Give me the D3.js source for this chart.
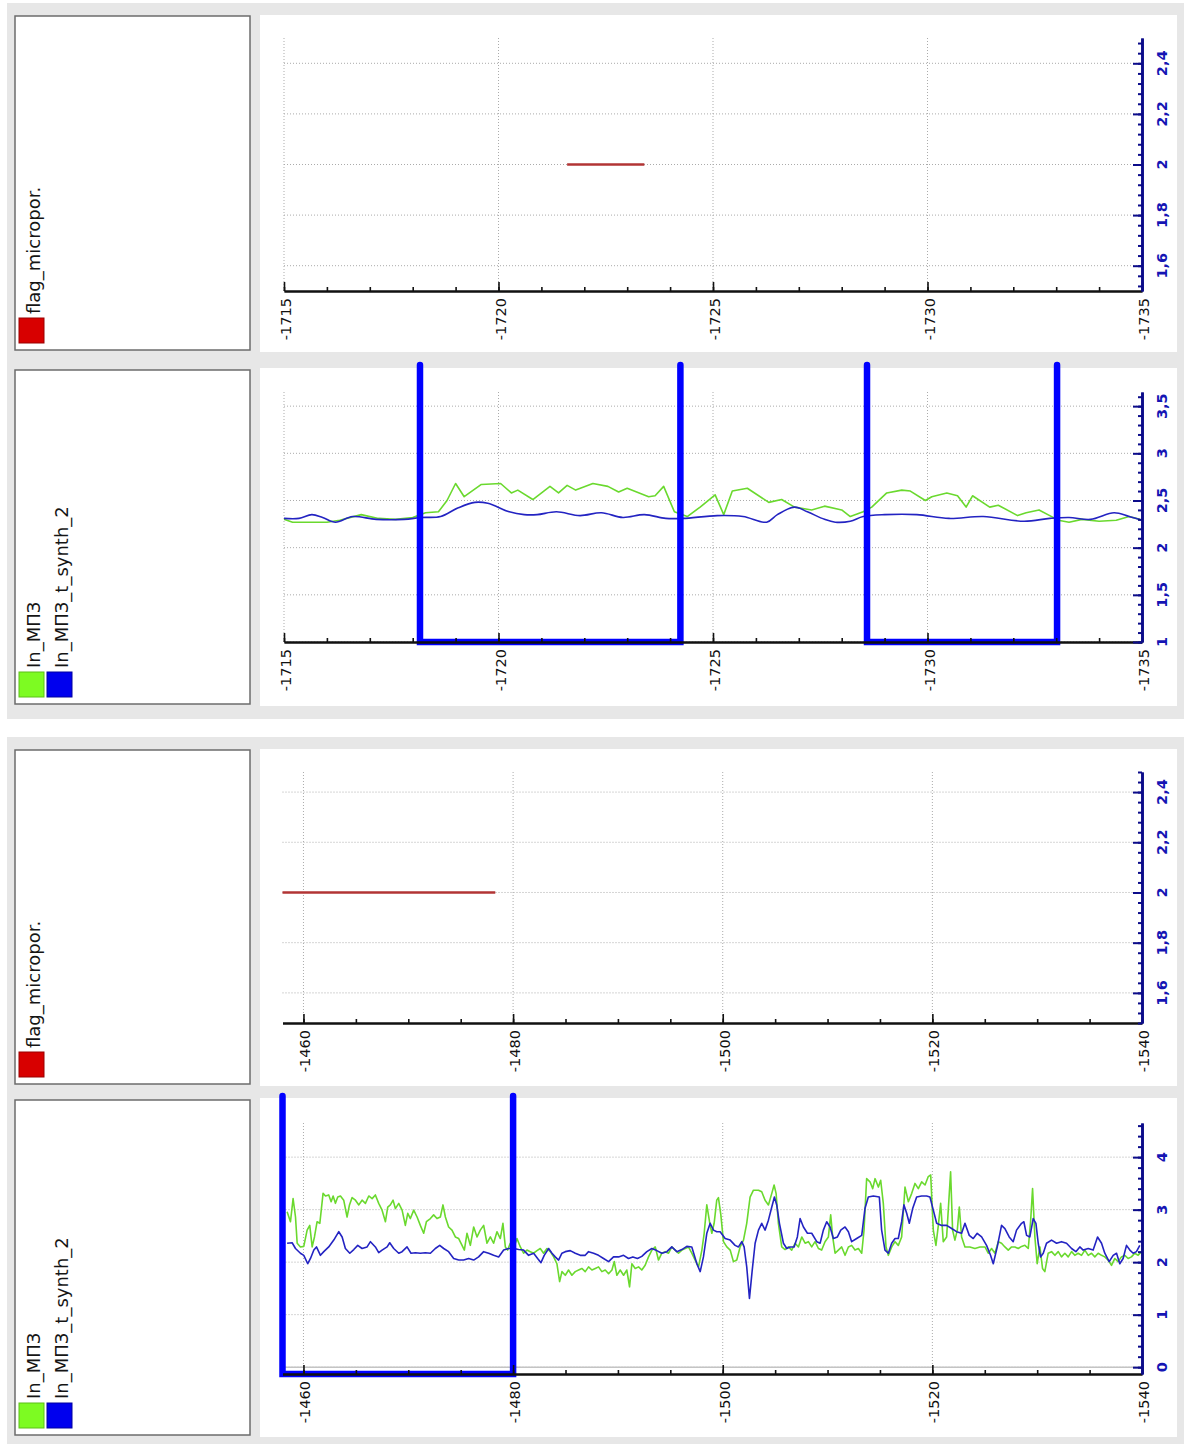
<!DOCTYPE html>
<html>
<head>
<meta charset="utf-8">
<title>flag_micropor / In_МПЗ</title>
<script src="https://d3js.org/d3.v7.min.js"></script>
<style>
  body { margin: 0; background: #fff; }
  svg text { font-family: "DejaVu Sans", sans-serif; }
</style>
</head>
<body>
<svg width="1184" height="1444"></svg>
<script>
// ---- tick labels ----
const topDepthTicks = [-1715, -1720, -1725, -1730, -1735];
const bottomDepthTicks = [-1460, -1480, -1500, -1520, -1540];
const flagTicks = [1.6, 1.8, 2, 2.2, 2.4];
const topLnTicks = [1, 1.5, 2, 2.5, 3, 3.5];
const bottomLnTicks = [0, 1, 2, 3, 4];

const flagLabels = ["flag_micropor."];
const lnLabels = ["In_МПЗ", "In_МПЗ_t_synth_2"];

// ---- flag_micropor. (value 2 over a depth span) ----
const flagLevel = 2;
const topFlagSpan = [-1721.6, -1723.4];
const bottomFlagSpan = [-1458.0, -1478.3];

// ---- intervals drawn as thick blue brackets ----
const topIntervals = [[-1718.17, -1724.24], [-1728.59, -1733.02]];
const bottomIntervals = [[-1458.0, -1480.0]];

// ---- upper interval, In_МПЗ ----
const topLnDepth = [-1715.0, -1715.2, -1715.5, -1716.0, -1716.3, -1716.8, -1717.2, -1717.6, -1718.0, -1718.3,
  -1718.6, -1718.8, -1719.0, -1719.2, -1719.6, -1720.05, -1720.3, -1720.45, -1720.8, -1721.2,
  -1721.4, -1721.6, -1721.8, -1722.2, -1722.55, -1722.8, -1723.0, -1723.5, -1723.65, -1723.85,
  -1724.1, -1724.4, -1724.7, -1725.05, -1725.25, -1725.45, -1725.8, -1726.3, -1726.6, -1726.9,
  -1727.3, -1727.6, -1728.0, -1728.2, -1728.5, -1728.7, -1729.05, -1729.4, -1729.6, -1729.95,
  -1730.1, -1730.45, -1730.7, -1730.9, -1731.05, -1731.45, -1731.65, -1732.1, -1732.3, -1732.6,
  -1732.85, -1733.05, -1733.3, -1733.6, -1734.0, -1734.4, -1734.7, -1734.95];
const topLnValue = [2.30, 2.27, 2.27, 2.27, 2.29, 2.35, 2.31, 2.30, 2.32, 2.37,
  2.38, 2.50, 2.68, 2.54, 2.67, 2.68, 2.58, 2.61, 2.51, 2.65,
  2.58, 2.66, 2.61, 2.68, 2.65, 2.59, 2.63, 2.54, 2.55, 2.65,
  2.38, 2.33, 2.43, 2.56, 2.35, 2.60, 2.63, 2.48, 2.51, 2.43,
  2.40, 2.44, 2.40, 2.33, 2.38, 2.43, 2.58, 2.61, 2.60, 2.50,
  2.54, 2.58, 2.55, 2.43, 2.55, 2.43, 2.45, 2.34, 2.37, 2.40,
  2.34, 2.29, 2.27, 2.30, 2.28, 2.29, 2.33, 2.30];

// ---- upper interval, In_МПЗ_t_synth_2 ----
const topSynthDepth = [-1715.0, -1715.35, -1715.65, -1715.9, -1716.2, -1716.6, -1717.15, -1717.8, -1718.2, -1718.65,
  -1719.05, -1719.45, -1719.75, -1720.25, -1720.6, -1720.9, -1721.35, -1721.9, -1722.4, -1722.9,
  -1723.4, -1723.9, -1724.3, -1725.1, -1725.7, -1726.25, -1726.5, -1726.9, -1727.2, -1727.6,
  -1727.85, -1728.2, -1728.5, -1729.0, -1729.75, -1730.5, -1731.3, -1732.25, -1732.85, -1733.3,
  -1733.8, -1734.35, -1734.7, -1735.0];
const topSynthValue = [2.31, 2.31, 2.35, 2.32, 2.27, 2.33, 2.30, 2.30, 2.32, 2.33,
  2.42, 2.48, 2.47, 2.38, 2.35, 2.35, 2.38, 2.34, 2.37, 2.32,
  2.35, 2.31, 2.31, 2.34, 2.33, 2.27, 2.35, 2.43, 2.38, 2.30,
  2.27, 2.28, 2.33, 2.35, 2.35, 2.31, 2.33, 2.28, 2.31, 2.32,
  2.30, 2.37, 2.33, 2.29];

// ---- lower interval, In_МПЗ ----
const bottomLnDepth = [-1458.44, -1458.76, -1459.01, -1459.24, -1459.40, -1459.71, -1460.03, -1460.35, -1460.60, -1460.83,
  -1461.05, -1461.30, -1461.56, -1461.87, -1462.10, -1462.41, -1462.64, -1462.83, -1463.05, -1463.27,
  -1463.53, -1463.84, -1464.16, -1464.39, -1464.64, -1464.96, -1465.28, -1465.59, -1465.91, -1466.23,
  -1466.55, -1466.86, -1467.18, -1467.50, -1467.82, -1468.04, -1468.29, -1468.55, -1468.77, -1469.09,
  -1469.41, -1469.72, -1469.95, -1470.20, -1470.52, -1470.84, -1471.15, -1471.47, -1471.73, -1472.11,
  -1472.42, -1472.74, -1473.06, -1473.31, -1473.54, -1473.85, -1474.17, -1474.49, -1474.81, -1475.13,
  -1475.35, -1475.60, -1475.92, -1476.24, -1476.56, -1476.87, -1477.19, -1477.51, -1477.83, -1478.14,
  -1478.46, -1478.78, -1479.03, -1479.26, -1479.48, -1479.73, -1480.05, -1480.37, -1480.69, -1481.00,
  -1481.32, -1481.64, -1481.96, -1482.28, -1482.59, -1482.91, -1483.23, -1483.55, -1483.87, -1484.18,
  -1484.44, -1484.66, -1484.98, -1485.29, -1485.61, -1485.93, -1486.25, -1486.56, -1486.88, -1487.20,
  -1487.52, -1487.84, -1488.15, -1488.47, -1488.79, -1489.11, -1489.43, -1489.65, -1489.90, -1490.22,
  -1490.54, -1490.85, -1491.11, -1491.33, -1491.65, -1491.97, -1492.28, -1492.60, -1492.92, -1493.24,
  -1493.56, -1493.87, -1494.19, -1494.51, -1494.83, -1495.14, -1495.46, -1495.78, -1496.10, -1496.42,
  -1496.73, -1497.05, -1497.37, -1497.69, -1498.01, -1498.23, -1498.48, -1498.74, -1498.96, -1499.18,
  -1499.43, -1499.59, -1499.82, -1500.07, -1500.39, -1500.71, -1501.02, -1501.34, -1501.66, -1501.98,
  -1502.29, -1502.61, -1502.93, -1503.41, -1503.72, -1504.04, -1504.36, -1504.68, -1504.90, -1505.09,
  -1505.31, -1505.63, -1505.95, -1506.27, -1506.58, -1506.90, -1507.22, -1507.54, -1507.86, -1508.17,
  -1508.49, -1508.81, -1509.13, -1509.44, -1509.76, -1510.08, -1510.30, -1510.49, -1510.72, -1511.03,
  -1511.35, -1511.67, -1511.99, -1512.30, -1512.62, -1512.94, -1513.26, -1513.48, -1513.73, -1514.05,
  -1514.31, -1514.53, -1514.85, -1515.07, -1515.32, -1515.58, -1515.80, -1516.12, -1516.44, -1516.75,
  -1517.07, -1517.39, -1517.71, -1518.03, -1518.34, -1518.66, -1518.98, -1519.30, -1519.61, -1519.84,
  -1520.09, -1520.34, -1520.57, -1520.79, -1521.04, -1521.36, -1521.74, -1521.93, -1522.15, -1522.38,
  -1522.57, -1522.79, -1523.11, -1523.58, -1524.06, -1524.54, -1525.02, -1525.33, -1525.65, -1525.97,
  -1526.29, -1526.60, -1526.92, -1527.24, -1527.56, -1527.87, -1528.19, -1528.51, -1528.83, -1529.15,
  -1529.37, -1529.56, -1529.78, -1530.00, -1530.26, -1530.51, -1530.73, -1531.05, -1531.37, -1531.69,
  -1532.01, -1532.32, -1532.64, -1532.96, -1533.28, -1533.59, -1533.91, -1534.23, -1534.55, -1534.87,
  -1535.18, -1535.50, -1535.82, -1536.14, -1536.45, -1536.77, -1537.09, -1537.41, -1537.72, -1538.04,
  -1538.36, -1538.68, -1538.99, -1539.31, -1539.63, -1539.95];
const bottomLnValue = [2.96, 2.77, 3.21, 2.86, 2.36, 2.29, 2.30, 2.61, 2.70, 2.29,
  2.48, 2.77, 2.74, 3.31, 3.26, 3.28, 3.15, 3.26, 3.12, 3.24,
  3.26, 3.18, 2.86, 3.09, 3.23, 3.18, 3.09, 3.18, 3.12, 3.26,
  3.21, 3.28, 3.12, 2.99, 2.77, 3.05, 3.09, 3.18, 3.02, 3.12,
  2.99, 2.70, 2.93, 2.83, 2.99, 2.86, 2.70, 2.55, 2.77, 2.83,
  2.90, 2.83, 2.86, 3.09, 2.86, 2.67, 2.61, 2.48, 2.45, 2.32,
  2.23, 2.55, 2.32, 2.67, 2.48, 2.61, 2.70, 2.36, 2.48, 2.36,
  2.58, 2.45, 2.74, 2.29, 2.23, 2.36, 2.26, 2.45, 2.29, 2.17,
  2.23, 2.20, 2.17, 2.22, 2.26, 2.17, 2.26, 2.20, 2.10, 1.97,
  1.63, 1.82, 1.75, 1.85, 1.75, 1.82, 1.85, 1.88, 1.82, 1.91,
  1.85, 1.88, 1.91, 1.82, 1.85, 1.78, 1.85, 2.01, 1.75, 1.85,
  1.75, 1.85, 1.53, 1.97, 1.88, 1.91, 1.85, 1.94, 2.10, 2.23,
  2.29, 2.04, 2.17, 2.20, 2.17, 2.29, 2.23, 2.17, 2.23, 2.26,
  2.29, 2.17, 2.04, 1.91, 2.23, 2.55, 3.09, 2.77, 2.55, 2.74,
  3.18, 3.23, 2.90, 2.39, 2.29, 2.23, 2.01, 2.04, 2.29, 2.42,
  2.74, 3.24, 3.37, 3.37, 3.34, 3.18, 3.09, 3.31, 3.47, 3.31,
  2.74, 2.29, 2.24, 2.29, 2.23, 2.36, 2.29, 2.48, 2.36, 2.39,
  2.29, 2.39, 2.26, 2.23, 2.39, 2.48, 2.90, 2.48, 2.17, 2.23,
  2.29, 2.13, 2.29, 2.32, 2.23, 2.26, 2.17, 2.61, 3.59, 3.53,
  3.40, 3.59, 3.43, 3.56, 3.12, 2.29, 2.13, 2.29, 2.39, 2.32,
  2.48, 3.43, 3.15, 3.31, 3.50, 3.40, 3.53, 3.47, 3.63, 3.66,
  2.61, 2.32, 2.70, 3.12, 2.39, 2.48, 3.72, 2.61, 2.42, 2.61,
  3.05, 2.48, 2.29, 2.29, 2.26, 2.29, 2.29, 2.17, 2.26, 2.17,
  2.39, 2.36, 2.29, 2.23, 2.29, 2.29, 2.26, 2.30, 2.32, 2.26,
  2.77, 3.40, 2.48, 1.97, 2.29, 1.88, 1.82, 2.17, 2.20, 2.13,
  2.20, 2.10, 2.17, 2.10, 2.20, 2.13, 2.17, 2.13, 2.23, 2.13,
  2.17, 2.10, 2.17, 2.13, 2.10, 2.04, 1.94, 2.07, 2.01, 2.10,
  2.13, 2.07, 2.10, 2.17, 2.13, 2.20];

// ---- lower interval, In_МПЗ_t_synth_2 ----
const bottomSynthDepth = [-1458.44, -1458.92, -1459.24, -1459.71, -1460.03, -1460.41, -1460.67, -1460.99, -1461.24, -1461.62,
  -1461.94, -1462.41, -1462.89, -1463.37, -1463.69, -1464.00, -1464.42, -1464.80, -1465.18, -1465.59,
  -1466.07, -1466.39, -1466.86, -1467.18, -1467.50, -1467.98, -1468.23, -1468.61, -1469.09, -1469.41,
  -1469.88, -1470.26, -1470.68, -1471.15, -1471.63, -1472.11, -1472.58, -1473.00, -1473.38, -1473.85,
  -1474.33, -1474.81, -1475.28, -1475.76, -1476.24, -1476.71, -1477.19, -1477.67, -1478.14, -1478.62,
  -1479.10, -1479.57, -1480.05, -1480.53, -1481.00, -1481.48, -1481.96, -1482.34, -1482.66, -1482.97,
  -1483.39, -1483.71, -1484.02, -1484.34, -1484.66, -1484.98, -1485.45, -1485.93, -1486.41, -1486.88,
  -1487.20, -1487.68, -1488.15, -1488.63, -1489.11, -1489.58, -1490.06, -1490.54, -1491.01, -1491.43,
  -1491.87, -1492.28, -1492.76, -1493.24, -1493.71, -1494.19, -1494.67, -1495.14, -1495.62, -1496.10,
  -1496.57, -1497.05, -1497.53, -1497.85, -1498.16, -1498.48, -1498.80, -1499.12, -1499.43, -1499.75,
  -1500.23, -1500.71, -1501.18, -1501.50, -1501.82, -1502.04, -1502.29, -1502.55, -1502.80, -1503.09,
  -1503.41, -1503.72, -1504.04, -1504.36, -1504.68, -1504.93, -1505.15, -1505.41, -1505.79, -1506.11,
  -1506.42, -1506.81, -1507.12, -1507.38, -1507.70, -1508.08, -1508.49, -1508.97, -1509.29, -1509.60,
  -1509.92, -1510.24, -1510.56, -1510.94, -1511.26, -1511.67, -1511.99, -1512.30, -1512.78, -1513.26,
  -1513.57, -1513.89, -1514.37, -1514.94, -1515.16, -1515.48, -1515.80, -1516.12, -1516.44, -1516.75,
  -1517.07, -1517.29, -1517.55, -1517.80, -1518.12, -1518.50, -1518.98, -1519.45, -1519.77, -1520.09,
  -1520.41, -1520.88, -1521.36, -1521.84, -1522.31, -1522.79, -1523.11, -1523.52, -1523.90, -1524.28,
  -1524.70, -1525.17, -1525.55, -1525.81, -1526.19, -1526.60, -1526.92, -1527.33, -1527.71, -1528.03,
  -1528.51, -1528.73, -1528.99, -1529.30, -1529.62, -1529.88, -1530.10, -1530.32, -1530.58, -1530.89,
  -1531.37, -1531.85, -1532.32, -1532.80, -1533.28, -1533.69, -1534.07, -1534.39, -1534.87, -1535.34,
  -1535.76, -1536.14, -1536.45, -1536.87, -1537.25, -1537.57, -1537.88, -1538.20, -1538.52, -1538.84,
  -1539.16, -1539.47, -1539.79];
const bottomSynthValue = [2.36, 2.37, 2.26, 2.17, 2.13, 1.97, 2.07, 2.23, 2.29, 2.13,
  2.20, 2.29, 2.42, 2.58, 2.48, 2.26, 2.17, 2.24, 2.32, 2.26,
  2.29, 2.39, 2.29, 2.18, 2.23, 2.29, 2.37, 2.26, 2.17, 2.20,
  2.29, 2.17, 2.18, 2.17, 2.18, 2.17, 2.26, 2.32, 2.26, 2.20,
  2.07, 2.04, 2.04, 2.07, 2.04, 2.10, 2.20, 2.17, 2.13, 2.10,
  2.23, 2.26, 2.26, 2.24, 2.23, 2.13, 2.17, 2.07, 1.99, 2.13,
  2.26, 2.17, 2.10, 2.04, 2.17, 2.20, 2.22, 2.17, 2.13, 2.13,
  2.20, 2.17, 2.13, 2.07, 2.01, 2.10, 2.10, 2.13, 2.07, 2.10,
  2.07, 2.11, 2.20, 2.26, 2.22, 2.17, 2.20, 2.29, 2.20, 2.24,
  2.30, 2.29, 1.97, 1.82, 2.10, 2.55, 2.74, 2.61, 2.58, 2.58,
  2.45, 2.42, 2.32, 2.29, 2.39, 2.29, 1.91, 1.31, 1.82, 2.36,
  2.61, 2.74, 2.61, 2.80, 3.05, 3.24, 3.09, 2.74, 2.36, 2.26,
  2.29, 2.29, 2.48, 2.83, 2.67, 2.55, 2.55, 2.39, 2.36, 2.61,
  2.77, 2.67, 2.45, 2.48, 2.61, 2.67, 2.58, 2.39, 2.45, 2.51,
  3.02, 3.24, 3.26, 3.24, 2.61, 2.23, 2.17, 2.36, 2.45, 2.45,
  2.77, 3.09, 2.93, 2.74, 3.02, 3.24, 3.26, 3.26, 3.24, 2.99,
  2.74, 2.70, 2.70, 2.64, 2.58, 2.55, 2.74, 2.51, 2.45, 2.55,
  2.48, 2.32, 2.13, 1.97, 2.29, 2.70, 2.64, 2.48, 2.39, 2.61,
  2.74, 2.77, 2.51, 2.48, 2.83, 2.74, 2.36, 2.10, 2.17, 2.36,
  2.42, 2.36, 2.39, 2.36, 2.26, 2.20, 2.29, 2.23, 2.26, 2.23,
  2.48, 2.36, 2.17, 2.01, 2.13, 2.17, 1.97, 2.07, 2.32, 2.23,
  2.17, 2.20, 2.32];

// ---- colours ----
const green = "#6ad92e", navy = "#2323c2", bracketBlue = "#0000ff", flagRed = "#b23434";
const axisBlue = "#0c0c8a", labelBlue = "#1515b4";

const svg = d3.select("svg");
const plotRight = 1142;

// grey frames for the two depth intervals
svg.append("rect").attr("x", 7).attr("y", 3).attr("width", 1177).attr("height", 716).attr("fill", "#e7e7e7");
svg.append("rect").attr("x", 7).attr("y", 737).attr("width", 1177).attr("height", 707).attr("fill", "#e7e7e7");

const fmt = v => String(+v.toFixed(2)).replace(".", ",");

function drawPanel(p) {
  const x = d3.scaleLinear().domain(p.xDomain).range([p.xLeft, plotRight]);
  const y = d3.scaleLinear().domain(p.yDomain).range([p.plotBottom, p.plotTop]);

  // legend box
  svg.append("rect").attr("x", 15).attr("y", p.legendY).attr("width", 235).attr("height", p.legendH)
    .attr("fill", "#fff").attr("stroke", "#6c6c6c").attr("stroke-width", 1.5);
  p.legend.forEach((item, i) => {
    const sx = 19 + i * 28, sy = p.legendY + p.legendH - 32;
    svg.append("rect").attr("x", sx).attr("y", sy).attr("width", 25).attr("height", 25)
      .attr("fill", item.color).attr("stroke", item.edge).attr("stroke-width", 1);
    svg.append("text")
      .attr("transform", `translate(${sx + 21},${sy - 4}) rotate(-90)`)
      .attr("font-size", 18).attr("fill", "#151515")
      .text(item.label);
  });

  // white chart area
  svg.append("rect").attr("x", 260).attr("y", p.chartY).attr("width", 917).attr("height", p.chartH).attr("fill", "#fff");

  // dotted grid
  const grid = svg.append("g").attr("stroke", "#ababab").attr("stroke-width", 1).attr("stroke-dasharray", "1,2");
  grid.selectAll("line.gv").data(p.xTicks.filter(d => x(d) < plotRight - 1)).join("line").attr("class", "gv")
    .attr("x1", d => x(d)).attr("x2", d => x(d)).attr("y1", p.plotTop).attr("y2", p.plotBottom);
  grid.selectAll("line.gh").data(p.yTicks).join("line").attr("class", "gh")
    .attr("x1", p.xLeft).attr("x2", plotRight).attr("y1", d => y(d)).attr("y2", d => y(d));

  if (p.zeroLine) {
    svg.append("line").attr("x1", p.xLeft).attr("x2", plotRight).attr("y1", y(0)).attr("y2", y(0))
      .attr("stroke", "#c4c4c4").attr("stroke-width", 1.5);
  }

  // data
  p.content(x, y);

  // x axis (ticks pointing up, labels rotated)
  const xa = svg.append("g").attr("transform", `translate(0,${p.plotBottom})`);
  const xMinor = x.ticks(p.xMinorCount);
  xa.append("g").call(d3.axisTop(x).tickValues(xMinor).tickSize(4).tickSizeOuter(0).tickFormat(""));
  xa.append("g").call(d3.axisTop(x).tickValues(p.xTicks).tickSize(9).tickSizeOuter(0).tickFormat(""));
  xa.selectAll("path.domain").attr("stroke", "#111").attr("stroke-width", 2);
  xa.selectAll(".tick line").attr("stroke", "#111").attr("stroke-width", 1.6);
  xa.selectAll("text.xl").data(p.xTicks).join("text").attr("class", "xl")
    .attr("transform", d => `translate(${x(d) + 7},7) rotate(-90)`)
    .attr("text-anchor", "end").attr("font-size", 14.5).attr("fill", "#111")
    .text(d => d);

  // y axis on the right (ticks pointing left)
  const ya = svg.append("g").attr("transform", `translate(${plotRight},0)`);
  const lo = p.yDomain[0], hi = p.yDomain[1];
  const yMinor = d3.range(Math.ceil(lo / p.yMinorStep - 1e-6), Math.floor(hi / p.yMinorStep + 1e-6) + 1)
    .map(k => +(k * p.yMinorStep).toFixed(3));
  ya.append("g").call(d3.axisLeft(y).tickValues(yMinor).tickSize(4).tickSizeOuter(0).tickFormat(""));
  ya.append("g").call(d3.axisLeft(y).tickValues(p.yTicks).tickSize(9).tickSizeOuter(0).tickFormat(""));
  ya.selectAll("path.domain").attr("stroke", axisBlue).attr("stroke-width", 2.6);
  ya.selectAll(".tick line").attr("stroke", axisBlue).attr("stroke-width", 2);
  ya.selectAll("text.yl").data(p.yTicks).join("text").attr("class", "yl")
    .attr("transform", d => `translate(25,${y(d)}) rotate(-90)`)
    .attr("text-anchor", "middle").attr("font-size", 14.5).attr("font-weight", "bold").attr("fill", labelBlue)
    .text(fmt);

  return {x, y};
}

function drawFlag(span) {
  return (x, y) => {
    svg.append("path").datum([[span[0], flagLevel], [span[1], flagLevel]])
      .attr("d", d3.line().x(d => x(d[0])).y(d => y(d[1])))
      .attr("fill", "none").attr("stroke", flagRed).attr("stroke-width", 2.5);
  };
}

function drawLn(lnD, lnV, syD, syV, intervals, plotTop, plotBottom, synthCurve) {
  return (x, y) => {
    const lineLn = d3.line().x(d => x(d[0])).y(d => y(d[1]));
    const lineSy = d3.line().x(d => x(d[0])).y(d => y(d[1])).curve(synthCurve);
    svg.append("path").datum(d3.zip(lnD, lnV)).attr("d", lineLn)
      .attr("fill", "none").attr("stroke", green).attr("stroke-width", 1.6).attr("stroke-linejoin", "round");
    svg.append("path").datum(d3.zip(syD, syV)).attr("d", lineSy)
      .attr("fill", "none").attr("stroke", navy).attr("stroke-width", 1.6).attr("stroke-linejoin", "round");
    // brackets: 1 = off (top, above the plot), 0 = on (bottom)
    const yFlag = d3.scaleLinear().domain([0, 1]).range([plotBottom, plotTop - 27]);
    const bracket = d3.line().x(d => x(d[0])).y(d => yFlag(d[1]));
    intervals.forEach(([a, b]) => {
      svg.append("path").datum([[a, 1], [a, 0], [b, 0], [b, 1]]).attr("d", bracket)
        .attr("fill", "none").attr("stroke", bracketBlue).attr("stroke-width", 6.5)
        .attr("stroke-linecap", "round").attr("stroke-linejoin", "miter");
    });
  };
}

const flagLegend = [{label: flagLabels[0], color: "#d80000", edge: "#9a0000"}];
const lnLegend = [
  {label: lnLabels[0], color: "#7dfb22", edge: "#5cc018"},
  {label: lnLabels[1], color: "#0000ee", edge: "#0000a0"}
];

const topX = {xDomain: [-1715, -1735], xLeft: 284, xTicks: topDepthTicks, xMinorCount: 20};
const bottomX = {xDomain: [-1458, -1540], xLeft: 282.5, xTicks: bottomDepthTicks, xMinorCount: 16};

drawPanel(Object.assign({}, topX, {
  legendY: 16, legendH: 334, chartY: 15, chartH: 337, plotTop: 38, plotBottom: 291,
  yDomain: [1.5, 2.5], yTicks: flagTicks, yMinorStep: 0.04, legend: flagLegend,
  content: drawFlag(topFlagSpan)
}));

drawPanel(Object.assign({}, topX, {
  legendY: 370, legendH: 334, chartY: 368, chartH: 338, plotTop: 392, plotBottom: 642,
  yDomain: [1, 3.65], yTicks: topLnTicks, yMinorStep: 0.1, legend: lnLegend,
  content: drawLn(topLnDepth, topLnValue, topSynthDepth, topSynthValue, topIntervals, 392, 642, d3.curveCatmullRom)
}));

drawPanel(Object.assign({}, bottomX, {
  legendY: 750, legendH: 334, chartY: 749, chartH: 337, plotTop: 772, plotBottom: 1023,
  yDomain: [1.48, 2.48], yTicks: flagTicks, yMinorStep: 0.04, legend: flagLegend,
  content: drawFlag(bottomFlagSpan)
}));

drawPanel(Object.assign({}, bottomX, {
  legendY: 1100, legendH: 335, chartY: 1098, chartH: 339, plotTop: 1123, plotBottom: 1374,
  yDomain: [-0.13, 4.65], yTicks: bottomLnTicks, yMinorStep: 0.2, legend: lnLegend, zeroLine: true,
  content: drawLn(bottomLnDepth, bottomLnValue, bottomSynthDepth, bottomSynthValue, bottomIntervals, 1123, 1374, d3.curveLinear)
}));
</script>
</body>
</html>
